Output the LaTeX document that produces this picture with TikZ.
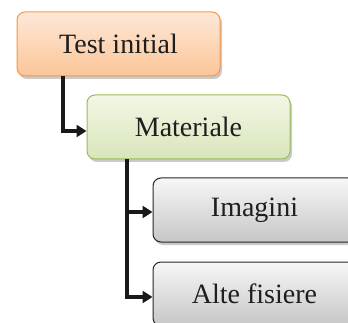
\documentclass[tikz,border=0pt]{standalone}
\usepackage{fontspec}
\setmainfont{Liberation Serif}
\usetikzlibrary{arrows.meta,shadows,calc}
\definecolor{orB}{HTML}{F79646}
\definecolor{orT}{HTML}{FEE8D8}
\definecolor{orM}{HTML}{FBC597}
\definecolor{grB}{HTML}{9BBB59}
\definecolor{grT}{HTML}{F3F7E6}
\definecolor{grM}{HTML}{D8E5BA}
\definecolor{gyT}{HTML}{F7F7F7}
\definecolor{gyM}{HTML}{C6C6C6}
\definecolor{txt}{HTML}{1E1E1E}
\tikzset{
  box/.style={rounded corners=8pt, minimum width=203pt, minimum height=64pt,
    line width=1pt, font=\fontsize{28}{32}\selectfont, text=txt,
    drop shadow={shadow xshift=2pt, shadow yshift=-3pt, opacity=0.35, fill=black!60}},
  orbox/.style={box, draw=orB, top color=orT, bottom color=orM},
  grbox/.style={box, draw=grB, top color=grT, bottom color=grM},
  gybox/.style={box, draw=black!85, top color=gyT, bottom color=gyM},
  conn/.style={line width=3.5pt, draw=black!90, -{Triangle[length=10pt,width=12pt]}}
}
\begin{document}
\begin{tikzpicture}[x=1pt,y=-1pt]
\useasboundingbox (0,0) rectangle (348,323);
\clip (0,0) rectangle (348,323);
\node[orbox] (t) at (118.5,44) {Test initial};
\node[grbox] (m) at (188.5,127) {Materiale};
\node[gybox] (i) at (254.5,210) {Imagini};
\node[gybox] (a) at (254.5,294) {Alte fisiere};
\coordinate (c1) at (63,0);
\coordinate (c2) at (127,0);
\draw[conn] (t.south -| c1) |- ([yshift=-4pt]m.west);
\draw[conn] (m.south -| c2) |- ([yshift=-2pt]i.west);
\draw[conn] (m.south -| c2) |- ([yshift=-3pt]a.west);
\end{tikzpicture}
\end{document}
